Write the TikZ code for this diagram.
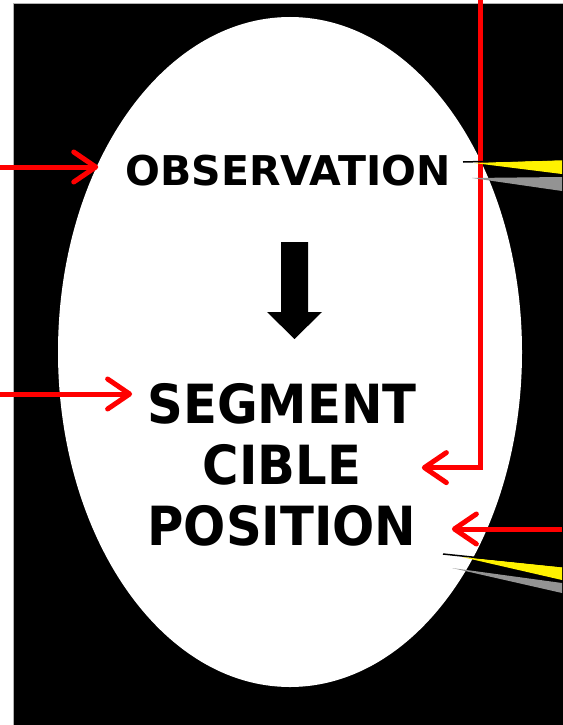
\documentclass[tikz,border=0pt]{standalone}
\usepackage{fontspec}
\setmainfont{DejaVu Sans}
\usetikzlibrary{positioning, arrows.meta, calc}
\tikzset{
  redarrow/.style={draw=red, line width=5pt, -{Straight Barb[length=22pt, width=30pt, round]}},
  bigtext/.style={font=\bfseries\fontsize{#1}{61}\selectfont, inner sep=0pt},
  callout/.style={fill=yellow},
  calloutshadow/.style={fill=gray!85},
}

\begin{document}
\begin{tikzpicture}[x=1pt, y=-1pt]

    \useasboundingbox (0,0) rectangle (562,725);

    % Background
    \fill[white] (0,0) rectangle (562,725);
    \filldraw[fill=black, draw=gray!60, line width=1pt] (13,4) rectangle (563,726);

    % Oval
    \fill[white] (290,352) ellipse [x radius=232, y radius=335];

    % Texts
    \node[bigtext=41] (obs) at (288,171) {OBSERVATION};
    \node[bigtext=54, align=center, anchor=north] (seg) at (282,383)
        {\scalebox{0.92}[1]{SEGMENT}\\\scalebox{0.92}[1]{CIBLE}\\\scalebox{0.92}[1]{POSITION}};

    % Block arrow between them
    \fill[black] (281,242) -- (308,242) -- (308,312) -- (322,312) -- (294.5,339)
        -- (267,312) -- (281,312) -- cycle;

    % Red arrows
    \coordinate (in1) at (0,167);
    \coordinate (in2) at (0,394);
    \coordinate (in3) at (562,529);
    \coordinate (fb) at (480,0);
    \draw[redarrow] (in1) -- ([xshift=-27pt]obs.west |- in1);
    \draw[redarrow] (in2) -- ([xshift=-15pt]seg.west |- in2);
    \draw[redarrow, line join=miter] (fb) |- ([xshift=5pt, yshift=-3pt]seg.east);
    \draw[redarrow] (in3) -- ([xshift=35pt]seg.east |- in3);

    % Callout pointers
    \fill[calloutshadow] (472,178) -- (562,177) -- (562,191) -- cycle;
    \fill[callout] (474,163) -- (562,160) -- (562,174) -- cycle;
    \draw[line width=1.5pt] (463,162) -- (562,159.5);

    \fill[calloutshadow] (452,568) -- (562,583) -- (562,593) -- cycle;
    \fill[callout] (462,557) -- (562,567) -- (562,580) -- cycle;
    \draw[line width=1.5pt] (443,554) -- (562,566.5);

\end{tikzpicture}
\end{document}
